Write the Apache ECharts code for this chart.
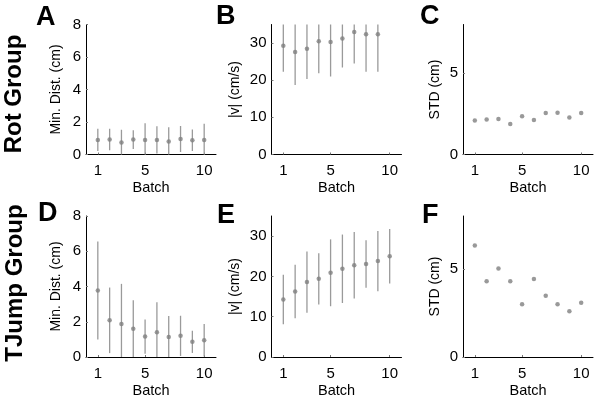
<!DOCTYPE html>
<html>
<head>
<meta charset="utf-8">
<script src="https://cdn.jsdelivr.net/npm/echarts@6/dist/echarts.min.js"></script>
<style>
html,body{margin:0;padding:0;background:#fff;}
#chart{width:600px;height:403px;}
</style>
</head>
<body>
<div id="chart"></div>
<script>
// ---- data ----
const batches = [1, 2, 3, 4, 5, 6, 7, 8, 9, 10];
const xTickValues = [1, 5, 10];

const rotMinDistMean = [0.90, 0.92, 0.74, 0.92, 0.90, 0.90, 0.80, 0.96, 0.88, 0.90];
const rotMinDistSD   = [0.68, 0.66, 0.78, 0.58, 1.03, 0.84, 0.88, 0.80, 0.66, 0.99];
const rotSpeedMean   = [29.3, 27.6, 28.5, 30.5, 30.3, 31.2, 33.0, 32.4, 32.4, null];
const rotSpeedSD     = [7.0, 8.9, 8.2, 8.6, 9.3, 7.8, 8.5, 10.1, 10.1, null];
const rotStd         = [2.10, 2.16, 2.18, 1.87, 2.35, 2.12, 2.55, 2.57, 2.28, 2.55];

const tjMinDistMean  = [3.77, 2.08, 1.87, 1.60, 1.16, 1.41, 1.14, 1.20, 0.86, 0.95];
const tjMinDistSD    = [2.78, 1.86, 2.28, 1.62, 0.97, 1.69, 1.18, 1.14, 0.63, 0.92];
const tjSpeedMean    = [14.25, 16.25, 18.6, 19.4, 20.9, 21.9, 22.75, 23.1, 23.8, 25.0];
const tjSpeedSD      = [6.15, 6.65, 7.6, 6.35, 8.3, 8.5, 8.25, 5.9, 7.45, 6.75];
const tjStd          = [6.32, 4.30, 5.02, 4.30, 3.00, 4.42, 3.47, 3.00, 2.60, 3.08];

const minDistTicks = [0, 2, 4, 6, 8];
const speedTicks = [0, 10, 20, 30];
const stdTicks = [0, 5];

const panelLetters = ['A', 'B', 'C', 'D', 'E', 'F'];
const rowLabels = ['Rot Group', 'TJump Group'];
const xName = 'Batch';
const yNames = ['Min. Dist. (cm)', '|v| (cm/s)', 'STD (cm)'];

// ---- layout ----
const FONT = 'Liberation Sans, Arial, Helvetica, sans-serif';
const lefts = [86, 271.5, 463];
const tops = [24.5, 216];
const heights = [130, 141];
const W = 130;
const yMax = [8, 35, 8];
const yTicks = [minDistTicks, speedTicks, stdTicks];
const nameGaps = [23, 29, 21];

const panels = [
  { mean: rotMinDistMean, sd: rotMinDistSD },
  { mean: rotSpeedMean, sd: rotSpeedSD },
  { mean: rotStd, sd: null },
  { mean: tjMinDistMean, sd: tjMinDistSD },
  { mean: tjSpeedMean, sd: tjSpeedSD },
  { mean: tjStd, sd: null }
];

const grid = [], xAxis = [], yAxis = [], series = [];
panels.forEach((p, i) => {
  const row = Math.floor(i / 3), col = i % 3;
  grid.push({ left: lefts[col], top: tops[row], width: W, height: heights[row], containLabel: false });
  xAxis.push({
    type: 'value', gridIndex: i, min: 0, max: 11,
    name: xName, nameLocation: 'middle', nameGap: 26,
    nameTextStyle: { fontFamily: FONT, fontSize: 14.5, color: '#000' },
    axisLine: { show: true, lineStyle: { color: '#000', width: 1 } },
    axisTick: { show: true, inside: true, length: 2, customValues: xTickValues, lineStyle: { color: '#777' } },
    axisLabel: { customValues: xTickValues, fontFamily: FONT, fontSize: 15, color: '#000', margin: 9 },
    splitLine: { show: false }
  });
  yAxis.push({
    type: 'value', gridIndex: i, min: 0, max: yMax[col],
    name: yNames[col], nameLocation: 'middle', nameGap: nameGaps[col], nameRotate: 90,
    nameTextStyle: { fontFamily: FONT, fontSize: 14, color: '#000' },
    axisLine: { show: true, lineStyle: { color: '#000', width: 1 } },
    axisTick: { show: true, inside: true, length: 2, customValues: yTicks[col], lineStyle: { color: '#777' } },
    axisLabel: { customValues: yTicks[col], fontFamily: FONT, fontSize: 15, color: '#000', margin: 5 },
    splitLine: { show: false }
  });
  if (p.sd) {
    series.push({
      type: 'custom', xAxisIndex: i, yAxisIndex: i, clip: true, silent: true,
      data: batches.map((b, k) => p.mean[k] == null ? null : [b, p.mean[k] - p.sd[k], p.mean[k] + p.sd[k]]).filter(d => d),
      renderItem: function (params, api) {
        const lo = api.coord([api.value(0), api.value(1)]);
        const hi = api.coord([api.value(0), api.value(2)]);
        return {
          type: 'line',
          shape: { x1: lo[0], y1: lo[1], x2: hi[0], y2: hi[1] },
          style: { stroke: '#9a9a9a', lineWidth: 1.3 }
        };
      }
    });
  }
  series.push({
    type: 'scatter', xAxisIndex: i, yAxisIndex: i, silent: true,
    symbol: 'circle', symbolSize: 4.5,
    itemStyle: { color: '#7f7f7f' },
    data: batches.map((b, k) => p.mean[k] == null ? null : [b, p.mean[k]]).filter(d => d)
  });
});

const letterPos = [[36, 18], [216, 17], [420, 17], [38, 214], [217, 216], [422, 216]];
const graphic = [];
panelLetters.forEach((t, i) => {
  graphic.push({
    type: 'text', x: letterPos[i][0], y: letterPos[i][1],
    style: { text: t, fontFamily: FONT, fontWeight: 'bold', fontSize: 27, fill: '#000', textAlign: 'left', textVerticalAlign: 'middle' }
  });
});
const rowCenters = [[14, 94], [15, 283]];
rowLabels.forEach((t, i) => {
  graphic.push({
    type: 'text', x: rowCenters[i][0], y: rowCenters[i][1], rotation: Math.PI / 2,
    style: { text: t, fontFamily: FONT, fontWeight: 'bold', fontSize: 24, fill: '#000', textAlign: 'center', textVerticalAlign: 'middle' }
  });
});

const chart = echarts.init(document.getElementById('chart'), null, { renderer: 'canvas' });
chart.setOption({
  animation: false,
  backgroundColor: '#fff',
  grid, xAxis, yAxis, series, graphic
});
</script>
</body>
</html>
